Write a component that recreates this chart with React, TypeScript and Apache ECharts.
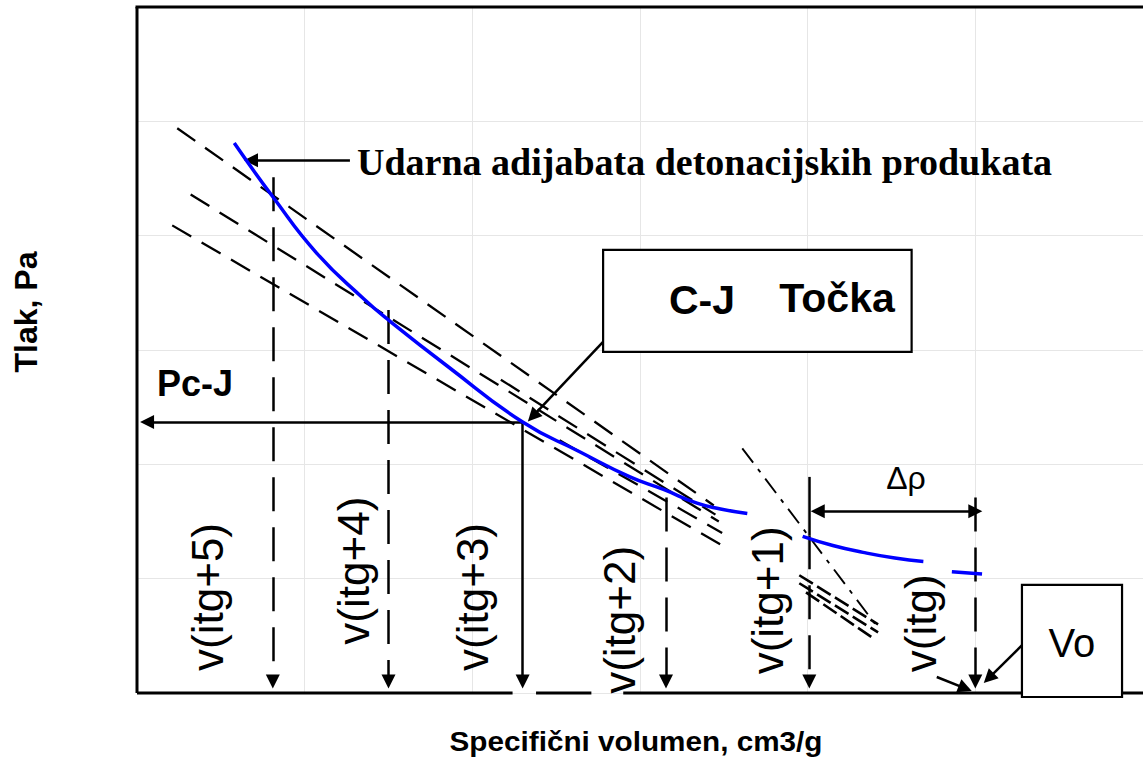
import React, { useEffect, useRef } from "react";
import * as echarts from "echarts";

// ---------- data (chart units: x = specific volume, y = pressure) ----------
const adiabatUpper = [
  [0.58, 4.81], [0.81, 4.34], [1.07, 3.85], [1.35, 3.45], [1.51, 3.25],
  [1.85, 2.86], [2.3, 2.37], [2.64, 2.11], [2.94, 1.89], [3.14, 1.78],
  [3.34, 1.66], [3.48, 1.61], [3.64, 1.57],
];
const adiabatMiddle = [[3.97, 1.37], [4.15, 1.29], [4.33, 1.23], [4.52, 1.18], [4.69, 1.15]];
const adiabatLower = [[4.86, 1.06], [5.04, 1.04]];

const cjPoint = [2.3, 2.37];

const tangentsUpper = [
  [[0.24, 4.94], [3.44, 1.64]],
  [[0.32, 4.36], [3.47, 1.5]],
  [[0.21, 4.09], [3.49, 1.29]],
  [[2.17, 2.74], [3.45, 1.56]],
  [[2.52, 2.21], [3.49, 1.4]],
];
const tangentsLower = [
  [[3.95, 1.03], [4.42, 0.6]],
  [[3.95, 0.96], [4.42, 0.53]],
  [[3.99, 0.88], [4.38, 0.49]],
];
const dashDotTangent = [[3.61, 2.14], [4.42, 0.57]];

const volumeLabels = ["v(itg+5)", "v(itg+4)", "v(itg+3)", "v(itg+2)", "v(itg+1)", "v(itg)"];
const volumeX = [0.81, 1.5, 2.3, 3.155, 4.01, 5.0];
const volumeTop = [4.51, 3.35, 2.37, 1.71, 1.89, 1.71];
const arrowBottom = 0.1;
const v1DashStart = 1.38;

const pcjEndX = 0.06;
const deltaRhoY = 1.59;
const deltaRhoFrom = 5.0;
const deltaRhoTo = 4.06;

const adiabatArrow = [[1.27, 4.66], [0.68, 4.66]];
const cjArrow = [[2.85, 3.18], [2.36, 2.42]];
const voArrow = [[5.28, 0.42], [5.08, 0.13]];
const v0Arrow = [[4.77, 0.14], [4.94, 0.04]];

// ---------- layout of annotations (chart units) ----------
const volumeLabelPos = [[0.42, 0.84], [1.29, 1.07], [2.0, 0.84], [2.88, 0.64], [3.76, 0.81], [4.67, 0.61]];
const cjBox = [[2.78, 3.875], [4.62, 2.983]];
const voBox = [[5.278, 0.945], [5.875, -0.035]];
const bottomFrameSegments = [[0, 2.24], [2.38, 2.71], [2.9, 6]];

export default function App() {
  const ref = useRef<HTMLDivElement>(null);

  useEffect(() => {
    const chart = echarts.init(ref.current!, null, { renderer: "svg" });
    const black = "#000";
    const lineSeg = (data: number[][], style: any, z = 3) => ({
      type: "line",
      data,
      symbol: "none",
      silent: true,
      z,
      lineStyle: { color: black, ...style },
    });
    const arrowSeries = (coords: number[][][], style: any, symbol: any = ["none", "triangle"]) => ({
      type: "lines",
      coordinateSystem: "cartesian2d",
      silent: true,
      z: 4,
      symbol,
      symbolSize: 14,
      lineStyle: { color: black, opacity: 1, width: 2.5, ...style },
      data: coords.map((c) => ({ coords: c })),
    });

    const dashedIdx = [0, 1, 3, 5];
    chart.setOption({
      animation: false,
      backgroundColor: "#fff",
      grid: { left: 137, top: 7, right: 0, bottom: 65 },
      xAxis: {
        type: "value", min: 0, max: 6, interval: 1,
        axisLine: { show: false }, axisTick: { show: false }, axisLabel: { show: false },
        splitLine: { show: true, lineStyle: { color: "#e6e6e6", width: 1 } },
      },
      yAxis: {
        type: "value", min: 0, max: 6, interval: 1,
        axisLine: { show: false }, axisTick: { show: false }, axisLabel: { show: false },
        splitLine: { show: true, lineStyle: { color: "#e6e6e6", width: 1 } },
      },
      series: [
        ...tangentsUpper.map((s) => lineSeg(s, { width: 2.3, type: [22, 12] })),
        ...tangentsLower.map((s) => lineSeg(s, { width: 2.6, type: [16, 5] })),
        lineSeg(dashDotTangent, { width: 1.9, type: [18, 8, 4, 8] }),
        ...[adiabatUpper, adiabatMiddle, adiabatLower].map((d) => ({
          type: "line", data: d, symbol: "none", smooth: 0.5, silent: true, z: 6,
          lineStyle: { color: "#0000ff", width: 3.5 },
        })),
        arrowSeries(
          dashedIdx.map((i) => [[volumeX[i], volumeTop[i]], [volumeX[i], arrowBottom]]).concat([
            [[volumeX[4], v1DashStart], [volumeX[4], arrowBottom]],
          ]),
          { type: [34, 16] }
        ),
        arrowSeries([[[volumeX[4], volumeTop[4]], [volumeX[4], v1DashStart]]], {}, ["none", "none"]),
        arrowSeries(
          [
            [cjPoint, [volumeX[2], arrowBottom]],
            [cjPoint, [pcjEndX, cjPoint[1]]],
            adiabatArrow,
            cjArrow,
            voArrow,
            v0Arrow,
          ],
          {}
        ),
        arrowSeries([[[deltaRhoFrom, deltaRhoY], [deltaRhoTo, deltaRhoY]]], {}, ["triangle", "triangle"]),
      ],
    });

    const P = (p: number[]) => chart.convertToPixel({ gridIndex: 0 }, p) as number[];
    const text = (pos: number[], t: string, font: string, rotation = 0, align = "center", scaleX = 1) => ({
      type: "text",
      x: pos[0],
      y: pos[1],
      rotation,
      scaleX,
      z: 50,
      style: {
        text: t, font, fill: black,
        align, verticalAlign: "middle", textAlign: align, textVerticalAlign: "middle",
      },
    });
    const rect = (b: number[][], z = 40) => {
      const a = P(b[0]);
      const c = P(b[1]);
      return {
        type: "rect", z,
        shape: { x: a[0], y: a[1], width: c[0] - a[0], height: c[1] - a[1] },
        style: { fill: "#fff", stroke: black, lineWidth: 2.2 },
      };
    };
    const line = (a: number[], b: number[], w = 3) => ({
      type: "line", z: 30,
      shape: { x1: a[0], y1: a[1], x2: b[0], y2: b[1] },
      style: { stroke: black, lineWidth: w },
    });

    const arial = '"Liberation Sans", Arial, sans-serif';
    const tl = P([0, 6]);
    const tr = P([6, 6]);
    const bl = P([0, 0]);
    const graphics: any[] = [
      line([tl[0], tl[1]], [bl[0], bl[1]]),
      line([tl[0] - 1.5, tl[1]], [tr[0], tr[1]]),
      ...bottomFrameSegments.map((s) => line(P([s[0], 0]), P([s[1], 0]))),
      rect(cjBox),
      rect(voBox),
      text(P([1.312, 4.644]), "Udarna adijabata detonacijskih produkata", 'bold 38px "Liberation Serif", serif', 0, "left"),
      text(P([3.37, 3.437]), "C-J", `bold 41px ${arial}`),
      text(P([4.175, 3.455]), "Točka", `bold 41px ${arial}`),
      text(P([0.119, 2.703]), "Pc-J", `bold 36px ${arial}`, 0, "left"),
      text(P([4.586, 1.88]), "Δρ", `32px ${arial}`),
      text(P([5.576, 0.437]), "Vo", `40px ${arial}`),
      ...volumeLabels.map((l, i) => text(P(volumeLabelPos[i]), l, `44px ${arial}`, Math.PI / 2)),
      text([636, 741], "Specifični volumen, cm3/g", `bold 27px ${arial}`, 0, "center", 1.1),
      text([26, 312], "Tlak, Pa", `bold 32px ${arial}`, Math.PI / 2),
    ];
    chart.setOption({ graphic: graphics });

    return () => chart.dispose();
  }, []);

  return (
    <div
      ref={ref}
      style={{ position: "fixed", left: 0, top: 0, width: 1143, height: 758, background: "#fff" }}
    />
  );
}
